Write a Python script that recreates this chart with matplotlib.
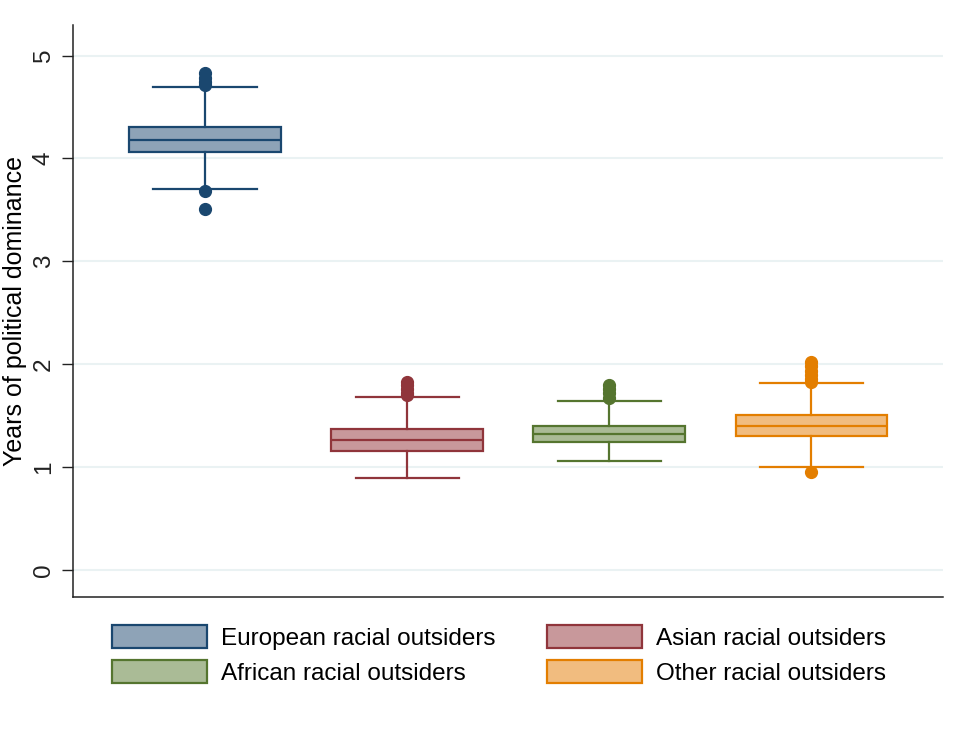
import matplotlib
matplotlib.use("Agg")
import matplotlib.pyplot as plt
from matplotlib.patches import Patch

plt.rcParams["font.family"] = ["Liberation Sans", "DejaVu Sans"]

# group labels and colours
groups = ["European racial outsiders", "Asian racial outsiders",
          "African racial outsiders", "Other racial outsiders"]
edge_colors = ["#1a476f", "#90353b", "#55752f", "#e37e00"]
fill_colors = ["#8ea3b7", "#c8989b", "#aabb96", "#f1bc7f"]

# box statistics per group
q1 = [4.066, 1.16, 1.245, 1.30]
med = [4.18, 1.265, 1.32, 1.40]
q3 = [4.31, 1.37, 1.40, 1.51]
whislo = [3.70, 0.895, 1.06, 1.00]
whishi = [4.69, 1.68, 1.64, 1.82]
fliers = [
    [4.83, 4.78, 4.74, 4.71, 3.68, 3.51],
    [1.83, 1.80, 1.76, 1.72, 1.70],
    [1.80, 1.76, 1.72, 1.67],
    [2.02, 1.98, 1.94, 1.90, 1.86, 1.83, 0.955],
]

fig = plt.figure(figsize=(9.67, 7.31), dpi=100)
ax = fig.add_axes([0.0755, 0.1833, 0.8995, 0.783])

for i in range(len(groups)):
    stats = [dict(q1=q1[i], med=med[i], q3=q3[i], whislo=whislo[i],
                  whishi=whishi[i], fliers=fliers[i], label=groups[i])]
    ec = edge_colors[i]
    ax.bxp(stats, positions=[i + 1], widths=0.75, capwidths=0.51,
           patch_artist=True, showfliers=True,
           boxprops=dict(facecolor=fill_colors[i], edgecolor=ec, linewidth=1.6),
           medianprops=dict(color=ec, linewidth=1.6),
           whiskerprops=dict(color=ec, linewidth=1.6),
           capprops=dict(color=ec, linewidth=1.6),
           flierprops=dict(marker="o", markerfacecolor=ec, markeredgecolor=ec,
                           markersize=8.5))

ax.set_xlim(0.347, 4.65)
ax.set_ylim(-0.26, 5.3)
ax.set_xticks([])
ax.set_yticks([0, 1, 2, 3, 4, 5])
ax.set_yticklabels(["0", "1", "2", "3", "4", "5"], rotation=90, va="center",
                   fontsize=17.5)
ax.tick_params(axis="y", length=8, width=1, pad=5, colors="#222222")
ax.set_ylabel("Years of political dominance", fontsize=18, labelpad=4)
ax.yaxis.grid(True, color="#eaf2f3", linewidth=1.5)
ax.set_axisbelow(True)
for s in ["top", "right"]:
    ax.spines[s].set_visible(False)
for s in ["left", "bottom"]:
    ax.spines[s].set_linewidth(1.1)
    ax.spines[s].set_color("#222222")

# legend, filled row by row
order = [0, 2, 1, 3]
handles = [Patch(facecolor=fill_colors[k], edgecolor=edge_colors[k],
                 linewidth=1.6) for k in order]
labels = [groups[k] for k in order]
fig.legend(handles, labels, loc="center", bbox_to_anchor=(0.516, 0.104),
           ncol=2, frameon=False, fontsize=17.5, handlelength=3.9,
           handleheight=1.08, handletextpad=0.6, columnspacing=2.1,
           labelspacing=0.45)

fig.savefig("out.png", dpi=100, facecolor="white")
